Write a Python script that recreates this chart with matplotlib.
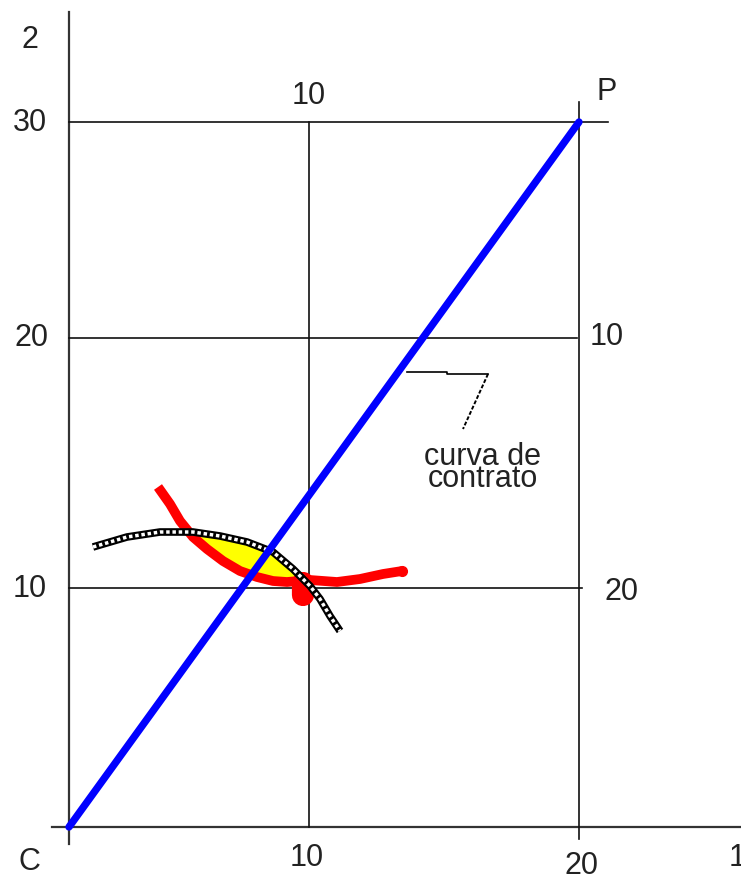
import numpy as np
import matplotlib.pyplot as plt

plt.rcParams['font.family'] = ['Liberation Sans', 'DejaVu Sans']

# drawing units = pixels of the original sketch (y grows downwards)
# box frame: origin C, corner P
c_x, c_y = 69, 828
p_x, p_y = 579, 123

# grid lines of the box
grid_x = [309, 579]            # 10 and 20 on the C axis
grid_y = [589, 339, 123]       # 10, 20, 30 on the C axis

# tick labels (text, x, y)
tick_labels = [
    ('2', 30, 40), ('30', 30, 123), ('20', 31, 338), ('10', 30, 589),
    ('C', 29, 862), ('10', 307, 858), ('20', 582, 866), ('1', 737, 858),
    ('10', 309, 96), ('P', 607, 92), ('10', 607, 337), ('20', 622, 592),
]

# indifference curves
red_x = [158, 170, 180, 193, 207, 223, 240, 257, 273, 287, 310, 337, 360, 383, 402]
red_y = [488, 505, 522, 538, 550, 562, 572, 578, 582, 583, 581, 583, 580, 575, 572]
black_x = [93, 127, 160, 193, 220, 247, 273, 293, 310, 320, 330, 340]
black_y = [548, 538, 533, 533, 537, 543, 553, 570, 587, 600, 617, 632]

# leader of the "curva de contrato" note
leader_x = [407, 447, 447, 488]
leader_y = [373, 373, 375, 375]
dot_x = [488, 463]
dot_y = [375, 430]

fig = plt.figure(figsize=(7.41, 8.79), dpi=100)
ax = fig.add_axes([0, 0, 1, 1])
ax.set_xlim(0, 741)
ax.set_ylim(879, 0)
ax.axis('off')

# axes of the box
ax.plot([c_x, c_x], [13, 845], color='#333333', lw=1.6)
ax.plot([52, 741], [c_y, c_y], color='#333333', lw=1.6)

# grid
ax.plot([grid_x[0], grid_x[0]], [p_y, c_y], color='#111111', lw=1.2)
ax.plot([grid_x[1], grid_x[1]], [103, 840], color='#111111', lw=1.2)
ax.plot([c_x, 608], [grid_y[2], grid_y[2]], color='#111111', lw=1.2)
ax.plot([c_x, 577], [grid_y[1], grid_y[1]], color='#111111', lw=1.2)
ax.plot([c_x, 582], [grid_y[0], grid_y[0]], color='#111111', lw=1.2)

for txt, x, y in tick_labels:
    ax.text(x, y, txt, fontsize=22, color='#222222', ha='center', va='center')

# lens between the two curves
xs = np.linspace(193, 300, 60)
top = np.interp(xs, black_x, black_y)
bot = np.interp(xs, red_x, red_y)
ax.fill_between(xs, top, np.maximum(top, bot), color='yellow', lw=0, zorder=2)

ax.plot(red_x, red_y, color='red', lw=7, solid_capstyle='butt',
        solid_joinstyle='round', zorder=3)
ax.plot([402], [572], 'o', color='red', ms=7, zorder=3)
ax.plot([303, 303], [584, 596], color='red', lw=16, solid_capstyle='round', zorder=3)

ax.plot(black_x, black_y, color='black', lw=5.5, solid_capstyle='butt',
        solid_joinstyle='round', zorder=4)
ax.plot(black_x, black_y, color='white', lw=2.5, dashes=(1.0, 0.8), zorder=4)

# contract curve
ax.plot([c_x, p_x], [c_y, p_y], color='#0000ff', lw=5.3, solid_capstyle='round', zorder=5)

ax.plot(leader_x, leader_y, color='black', lw=1.2)
ax.plot(dot_x, dot_y, color='black', lw=1.4, dashes=(2, 1))
ax.text(482, 457, 'curva de', fontsize=22, color='#222222', ha='center', va='center')
ax.text(483, 479, 'contrato', fontsize=22, color='#222222', ha='center', va='center')

fig.savefig('out.png', dpi=100)
